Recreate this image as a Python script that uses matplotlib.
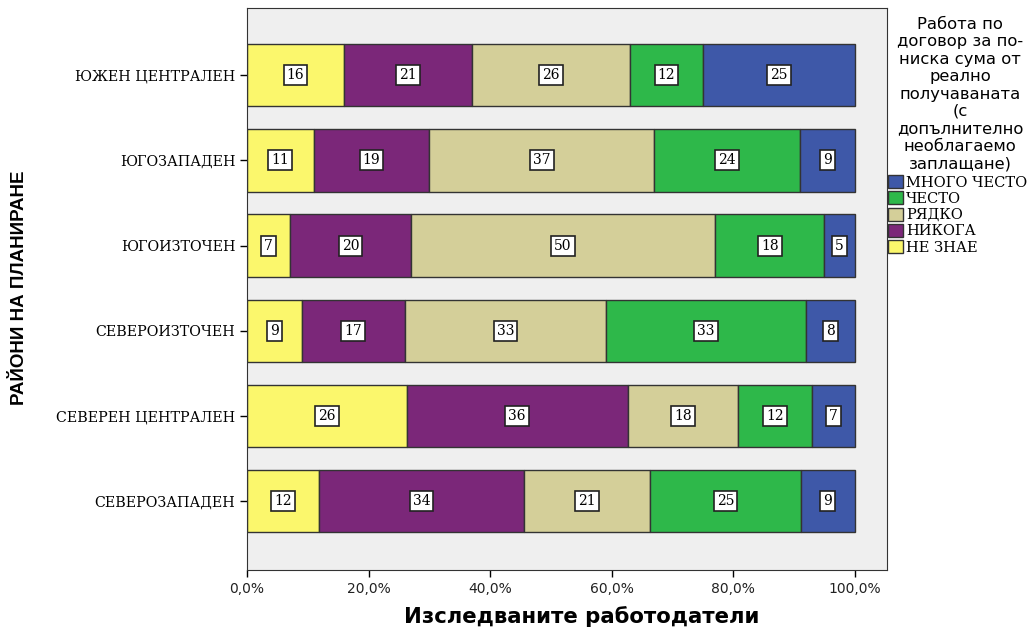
import numpy as np
import matplotlib
matplotlib.use("Agg")
import matplotlib.pyplot as plt
from matplotlib.patches import Patch

# Райони (отдолу нагоре, както са на графиката)
regions = ["СЕВЕРОЗАПАДЕН", "СЕВЕРЕН ЦЕНТРАЛЕН", "СЕВЕРОИЗТОЧЕН",
           "ЮГОИЗТОЧЕН", "ЮГОЗАПАДЕН", "ЮЖЕН ЦЕНТРАЛЕН"]

# Брой отговори по категории
ne_znae = [12, 26, 9, 7, 11, 16]
nikoga = [34, 36, 17, 20, 19, 21]
ryadko = [21, 18, 33, 50, 37, 26]
chesto = [25, 12, 33, 18, 24, 12]
mnogo_chesto = [9, 7, 8, 5, 9, 25]

series_names = ["НЕ ЗНАЕ", "НИКОГА", "РЯДКО", "ЧЕСТО", "МНОГО ЧЕСТО"]
series_values = [ne_znae, nikoga, ryadko, chesto, mnogo_chesto]
colors = ["#fbf76c", "#7b2779", "#d4cf99", "#2eb84a", "#3e58a8"]

legend_title = ["Работа по", "договор за по-", "ниска сума от", "реално",
                "получаваната", "(с", "допълнително", "необлагаемо", "заплащане)"]

counts = np.array(series_values, dtype=float)
totals = counts.sum(axis=0)
shares = counts / totals * 100

fig = plt.figure(figsize=(10.36, 6.31), dpi=100)
ax = fig.add_axes([247 / 1036, 61 / 631, 640 / 1036, 562 / 631])
ax.set_facecolor("#efefef")

y = np.arange(len(regions))
left = np.zeros(len(regions))
for name, share, cnt, col in zip(series_names, shares, counts, colors):
    ax.barh(y, share, left=left, height=0.73, color=col, edgecolor="#333333",
            linewidth=1.0, label=name)
    for yi, l, s, c in zip(y, left, share, cnt):
        ax.text(l + s / 2, yi, f"{int(c)}", ha="center", va="center",
                family="DejaVu Serif", fontsize=10,
                bbox=dict(boxstyle="square,pad=0.22", fc="white", ec="#222222", lw=1.2))
    left += share

ax.set_xlim(0, 105.3)
ax.set_ylim(-0.81, 5.79)
ax.set_yticks(y)
ax.set_yticklabels(regions, family="DejaVu Serif", fontsize=10.3)
ax.set_xticks(np.arange(0, 101, 20))
ax.set_xticklabels([f"{v},0%" for v in range(0, 101, 20)], fontsize=10, color="#222222")
ax.tick_params(axis="both", length=5, width=1)
for sp in ax.spines.values():
    sp.set_color("#333333")

fig.text(582 / 1036, 1 - 617 / 631, "Изследваните работодатели", ha="center",
         va="center", fontsize=15.3, fontweight="bold", family="DejaVu Sans")
fig.text(20 / 1036, 1 - 288 / 631, "РАЙОНИ НА ПЛАНИРАНЕ", rotation=90,
         ha="center", va="center", fontsize=13.5, fontweight="bold",
         family="Liberation Sans")

# Легенда: заглавие ред по ред
for i, line in enumerate(legend_title):
    fig.text(960 / 1036, 1 - (23 + i * 17.4) / 631, line, ha="center",
             va="center_baseline", fontsize=11.8, family="DejaVu Sans")
handles = [Patch(facecolor=c, edgecolor="#333333", label=n)
           for n, c in zip(series_names[::-1], colors[::-1])]
fig.legend(handles=handles, loc="upper left",
           bbox_to_anchor=(888 / 1036, 1 - 175 / 631), frameon=False,
           prop=dict(family="DejaVu Serif", size=10.5), handlelength=1.05,
           handleheight=1.0, handletextpad=0.2, labelspacing=0.12,
           borderaxespad=0, borderpad=0)

fig.savefig("out.png", dpi=100)
